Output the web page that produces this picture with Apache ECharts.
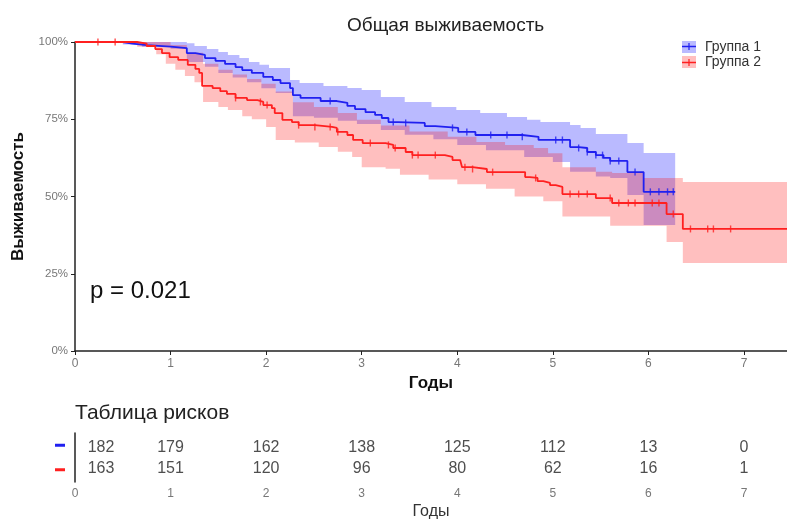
<!DOCTYPE html>
<html>
<head>
<meta charset="utf-8">
<script src="https://cdn.jsdelivr.net/npm/echarts@6/dist/echarts.min.js"></script>
<style>html,body{margin:0;padding:0;background:#fff}#c{width:787px;height:519px}</style>
</head>
<body>
<div id="c"></div>
<script>
// ---- data ----
const xMax = 7.45;
const blueT = [0, 0.5, 0.6, 0.75, 1.0, 1.17, 1.26, 1.36, 1.47, 1.57, 1.68, 1.75, 1.85, 1.97, 2.07, 2.15, 2.25, 2.28, 2.36, 2.57, 2.74, 2.85, 2.93, 3.04, 3.14, 3.21, 3.28, 3.38, 3.66, 3.77, 4.01, 4.19, 4.68, 4.85, 5.18, 5.27, 5.36, 5.45, 5.53, 5.60, 5.78, 5.95, 6.28];
const blueS = [100, 99.5, 99.0, 98.5, 98.0, 96.4, 95.8, 94.8, 93.9, 92.9, 91.9, 90.9, 90.0, 88.7, 87.7, 86.7, 85.1, 82.8, 81.9, 80.9, 80.3, 79.3, 78.3, 77.3, 76.4, 75.4, 74.1, 73.8, 72.8, 72.2, 70.9, 69.9, 69.3, 68.3, 66.0, 65.7, 64.4, 63.4, 62.5, 61.5, 57.9, 51.5, 51.5];
const redT = [0, 0.65, 0.75, 0.84, 0.91, 0.99, 1.08, 1.18, 1.26, 1.30, 1.33, 1.44, 1.52, 1.59, 1.68, 1.80, 1.91, 1.97, 2.06, 2.09, 2.17, 2.27, 2.34, 2.51, 2.69, 2.74, 2.85, 2.91, 3.01, 3.25, 3.33, 3.46, 3.53, 3.87, 3.95, 4.03, 4.05, 4.16, 4.31, 4.71, 4.76, 4.84, 4.90, 4.97, 5.03, 5.10, 5.45, 5.62, 6.19, 6.36, 7.45];
const redS = [100, 99.5, 98.7, 97.7, 96.4, 95.1, 94.2, 92.6, 91.3, 90.0, 85.8, 85.1, 84.1, 83.2, 81.9, 81.2, 80.6, 79.6, 78.6, 77.0, 74.8, 74.1, 73.1, 72.5, 72.2, 70.9, 69.9, 68.3, 67.3, 66.7, 65.7, 64.4, 63.4, 62.8, 61.8, 61.2, 59.5, 58.9, 57.9, 56.3, 56.0, 55.0, 54.4, 53.7, 53.1, 50.8, 49.5, 47.9, 44.3, 39.5, 39.5];

// confidence bands (step values)
const blueUpT = [0.5, 1.17, 1.25, 1.38, 1.5, 1.6, 1.72, 1.82, 1.93, 2.03, 2.25, 2.35, 2.6, 2.85, 3.0, 3.2, 3.45, 3.73, 3.99, 4.24, 4.52, 4.73, 4.87, 5.18, 5.29, 5.45, 5.78, 5.95, 6.28];
const blueUp  = [100, 99.6, 98.7, 97.7, 96.8, 95.8, 94.8, 93.5, 92.6, 91.6, 87.7, 86.7, 85.8, 85.1, 84.5, 82.2, 80.6, 79.0, 78.0, 77.0, 75.7, 74.8, 74.1, 73.1, 72.2, 70.2, 67.3, 64.1, 64.1];
const blueLoT = [0.5, 0.7, 1.0, 1.17, 1.36, 1.5, 1.65, 1.8, 1.95, 2.1, 2.28, 2.5, 2.75, 2.95, 3.2, 3.45, 3.75, 4.0, 4.3, 4.7, 5.0, 5.18, 5.45, 5.6, 5.78, 5.95, 6.28];
const blueLo  = [99.2, 98.5, 97.8, 93.5, 92.0, 90.0, 88.5, 87.0, 85.0, 83.5, 76.0, 75.5, 74.5, 73.5, 71.5, 70.0, 68.5, 66.7, 65.0, 62.8, 61.2, 58.0, 56.5, 56.0, 50.5, 40.8, 40.8];
const redUpT = [0.65, 1.0, 1.17, 1.34, 1.5, 1.65, 1.8, 1.95, 2.1, 2.28, 2.5, 2.75, 2.95, 3.2, 3.5, 3.9, 4.2, 4.5, 4.8, 4.95, 5.1, 5.45, 5.62, 5.95, 6.36, 7.45];
const redUp  = [100, 99.0, 96.5, 93.0, 91.0, 89.5, 88.0, 86.5, 84.0, 80.5, 79.0, 77.0, 74.8, 73.0, 71.0, 69.3, 67.6, 66.7, 65.7, 64.0, 59.5, 58.0, 57.6, 56.0, 54.7, 54.7];
const redLoT = [0.65, 0.85, 0.95, 1.05, 1.15, 1.25, 1.34, 1.5, 1.6, 1.75, 1.85, 2.0, 2.1, 2.3, 2.55, 2.75, 2.9, 3.0, 3.25, 3.4, 3.7, 4.0, 4.3, 4.6, 4.9, 5.1, 5.6, 6.19, 6.36, 7.45];
const redLo  = [98.5, 96.0, 93.0, 91.0, 89.0, 87.0, 80.6, 79.0, 78.0, 76.0, 75.0, 72.5, 68.3, 67.5, 66.0, 64.5, 62.8, 59.5, 59.0, 57.0, 55.5, 54.0, 52.5, 50.0, 48.5, 43.5, 40.5, 35.3, 28.5, 28.5];

// censoring times
const blueCens = [2.67, 3.33, 3.46, 3.95, 4.1, 4.35, 4.52, 4.68, 5.03, 5.1, 5.27, 5.36, 5.45, 5.52, 5.6, 5.69, 5.86, 6.02, 6.11, 6.2, 6.26];
const redCens = [0.24, 0.42, 1.68, 1.94, 2.01, 2.34, 2.51, 2.67, 2.75, 3.09, 3.28, 3.35, 3.53, 3.59, 3.77, 4.08, 4.16, 4.37, 4.82, 5.18, 5.27, 5.36, 5.6, 5.69, 5.79, 5.86, 6.04, 6.11, 6.26, 6.44, 6.62, 6.68, 6.86];

// risk table
const riskTimes = [0, 1, 2, 3, 4, 5, 6, 7];
const riskBlue = [182, 179, 162, 138, 125, 112, 13, 0];
const riskRed = [163, 151, 120, 96, 80, 62, 16, 1];
const groups = ['Группа 1', 'Группа 2'];

// ---- helpers ----
function stepAt(T, V, t) {
  let v = V[0];
  for (let i = 0; i < T.length; i++) { if (T[i] <= t + 1e-9) v = V[i]; else break; }
  return v;
}
function band(loT, lo, upT, up) {
  const ts = Array.from(new Set(loT.concat(upT))).sort((a, b) => a - b);
  return ts.map(t => [t, stepAt(loT, lo, t), stepAt(upT, up, t)]);
}
const zip = (T, S) => T.map((t, i) => [t, S[i]]);
const bBand = band(blueLoT, blueLo, blueUpT, blueUp);
const rBand = band(redLoT, redLo, redUpT, redUp);

const BLUE = '#2020f0', RED = '#ff2020';
const BLUE_F = 'rgba(0,0,255,0.27)', RED_F = 'rgba(255,0,0,0.25)';
const FONT = 'Liberation Sans, Arial, sans-serif';

function bandSeries(rows, color, z) {
  return {
    type: 'custom', xAxisIndex: 0, yAxisIndex: 0, silent: true, z: z, clip: true,
    data: [0],
    renderItem: (params, api) => {
      const top = [], bot = [];
      for (let i = 0; i < rows.length - 1; i++) {
        const [t, lo, up] = rows[i];
        const tn = rows[i + 1][0];
        top.push(api.coord([t, up]), api.coord([tn, up]));
        bot.push(api.coord([t, lo]), api.coord([tn, lo]));
      }
      return { type: 'polygon', shape: { points: top.concat(bot.reverse()) }, style: { fill: color } };
    }
  };
}

const axisCommon = {
  axisLine: { lineStyle: { color: '#222', width: 1.5 } },
  axisTick: { length: 4, lineStyle: { color: '#222', width: 1 } },
  splitLine: { show: false }
};

const option = {
  animation: false,
  backgroundColor: '#fff',
  textStyle: { fontFamily: FONT },
  title: { text: 'Общая выживаемость', left: 342, top: 11,
    textStyle: { fontSize: 19, fontWeight: 'normal', color: '#222', fontFamily: FONT } },
  legend: {
    left: 682, top: 40, orient: 'vertical', itemWidth: 14, itemHeight: 12, itemGap: 1, padding: 0,
    textStyle: { fontSize: 14, color: '#333', padding: [0, 0, 0, 4] },
    data: [
      { name: groups[0], icon: 'rect', itemStyle: { color: BLUE_F } },
      { name: groups[1], icon: 'rect', itemStyle: { color: RED_F } }
    ]
  },
  graphic: [
    { type: 'line', z: 100, shape: { x1: 682, y1: 46.5, x2: 696, y2: 46.5 }, style: { stroke: BLUE, lineWidth: 1.5 } },
    { type: 'line', z: 100, shape: { x1: 689, y1: 43, x2: 689, y2: 50 }, style: { stroke: BLUE, lineWidth: 1.2 } },
    { type: 'line', z: 100, shape: { x1: 682, y1: 62.5, x2: 696, y2: 62.5 }, style: { stroke: RED, lineWidth: 1.5 } },
    { type: 'line', z: 100, shape: { x1: 689, y1: 59, x2: 689, y2: 66 }, style: { stroke: RED, lineWidth: 1.2 } },
    { type: 'text', left: 90, top: 279, style: { text: 'p = 0.021', fontSize: 24, fill: '#111', fontFamily: FONT } },
    { type: 'text', left: 75, top: 403, style: { text: 'Таблица рисков', fontSize: 21, fill: '#222', fontFamily: FONT } }
  ],
  grid: [
    { left: 75, right: 0, top: 42, bottom: 168, outerBoundsMode: 'none' },
    { left: 75, right: 0, top: 433, bottom: 37, outerBoundsMode: 'none' }
  ],
  xAxis: [
    Object.assign({ gridIndex: 0, type: 'value', min: 0, max: xMax, interval: 1,
      axisLabel: { color: '#777', fontSize: 12, margin: 7, showMaxLabel: false },
      name: 'Годы', nameLocation: 'middle', nameGap: 22,
      nameTextStyle: { fontWeight: 'bold', fontSize: 17, color: '#111' } }, axisCommon),
    Object.assign({ gridIndex: 1, type: 'value', min: 0, max: xMax, interval: 1,
      axisLabel: { color: '#777', fontSize: 12, margin: 6, showMaxLabel: false },
      name: 'Годы', nameLocation: 'middle', nameGap: 22,
      nameTextStyle: { fontSize: 16, color: '#333' } }, axisCommon)
  ],
  yAxis: [
    Object.assign({ gridIndex: 0, type: 'value', min: 0, max: 100, interval: 25,
      axisLabel: { color: '#777', fontSize: 11.5, margin: 7, formatter: '{value}%' },
      name: 'Выживаемость', nameLocation: 'middle', nameGap: 48, nameRotate: 90,
      nameTextStyle: { fontWeight: 'bold', fontSize: 17, color: '#111' } }, axisCommon),
    { gridIndex: 1, type: 'category', data: [groups[1], groups[0]],
      axisLine: { lineStyle: { color: '#222', width: 1.5 } },
      axisTick: { show: false }, splitLine: { show: false },
      axisLabel: { margin: 10, formatter: v => v === groups[0] ? '{b|}' : '{r|}',
        rich: { b: { backgroundColor: BLUE, width: 10, height: 3 }, r: { backgroundColor: RED, width: 10, height: 3 } } } }
  ],
  series: [
    bandSeries(bBand, BLUE_F, 1),
    bandSeries(rBand, RED_F, 2),
    { name: groups[0], type: 'line', step: 'end', data: zip(blueT, blueS), symbol: 'none', color: BLUE, lineStyle: { width: 1.8, color: BLUE }, z: 3 },
    { name: groups[1], type: 'line', step: 'end', data: zip(redT, redS), symbol: 'none', color: RED, lineStyle: { width: 1.8, color: RED }, z: 4 },
    { type: 'scatter', data: blueCens.map(t => [t, stepAt(blueT, blueS, t)]), symbol: 'rect', symbolSize: [1.4, 7], itemStyle: { color: BLUE }, z: 5 },
    { type: 'scatter', data: redCens.map(t => [t, stepAt(redT, redS, t)]), symbol: 'rect', symbolSize: [1.4, 7], itemStyle: { color: RED }, z: 5 },
    { type: 'scatter', xAxisIndex: 1, yAxisIndex: 1, symbolSize: 0,
      data: riskTimes.map((t, i) => [t, groups[0], riskBlue[i]]),
      label: { show: true, position: 'inside', fontSize: 16, color: '#222', formatter: p => String(p.value[2]) },
      labelLayout: p => p.dataIndex === 0 ? { dx: 26, dy: 2.5 } : { dy: 2.5 } },
    { type: 'scatter', xAxisIndex: 1, yAxisIndex: 1, symbolSize: 0,
      data: riskTimes.map((t, i) => [t, groups[1], riskRed[i]]),
      label: { show: true, position: 'inside', fontSize: 16, color: '#222', formatter: p => String(p.value[2]) },
      labelLayout: p => p.dataIndex === 0 ? { dx: 26, dy: -1.5 } : { dy: -1.5 } }
  ]
};
const chart = echarts.init(document.getElementById('c'), null, { renderer: 'canvas' });
chart.setOption(option);
</script>
</body>
</html>
